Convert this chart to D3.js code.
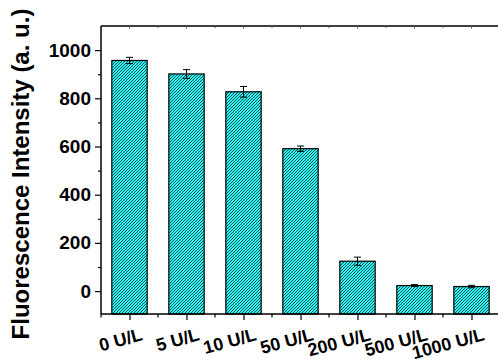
<!DOCTYPE html>
<html>
<head>
<meta charset="utf-8">
<script src="https://cdn.jsdelivr.net/npm/d3@7"></script>
<style>
  html, body { margin: 0; padding: 0; background: #fff; }
  svg { display: block; font-family: Arial, "Liberation Sans", sans-serif; }
</style>
</head>
<body>
<svg id="chart" width="498" height="362"></svg>
<script>
// Fluorescence intensity for each enzyme concentration
const categories = ["0 U/L", "5 U/L", "10 U/L", "50 U/L", "200 U/L", "500 U/L", "1000 U/L"];
const intensity  = [957, 901, 827, 591, 124, 23, 19];
const errors     = [13, 18, 22, 11, 17, 4, 5];
const yTicks     = [0, 200, 400, 600, 800, 1000];
const yMinorTicks = [-100, 100, 300, 500, 700, 900, 1100];
const yLabel = "Fluorescence Intensity (a. u.)";

const svg = d3.select("#chart");
const plotLeft = 101, plotRight = 500, plotTop = 26, plotBottom = 314;

const x = d3.scaleBand().domain(categories).range([plotLeft, plotRight]).paddingInner(0).paddingOuter(0);
const y = d3.scaleLinear().domain([-95, 1100]).range([plotBottom, plotTop]);
const barW = x.bandwidth() * 0.62;

// diagonal "/" hatch fill
const defs = svg.append("defs");
const tile = 3;
const pat = defs.append("pattern")
  .attr("id", "hatch")
  .attr("patternUnits", "userSpaceOnUse")
  .attr("width", tile).attr("height", tile);
pat.append("rect").attr("width", tile).attr("height", tile).attr("fill", "#2af2f2");
pat.append("path")
  .attr("d", `M0,${tile} L${tile},0 M-1,1 L1,-1 M${tile - 1},${tile + 1} L${tile + 1},${tile - 1}`)
  .attr("stroke", "#083030").attr("stroke-width", 0.8);

// bars
svg.append("g").selectAll("rect")
  .data(categories)
  .join("rect")
  .attr("x", d => x(d) + (x.bandwidth() - barW) / 2)
  .attr("width", barW)
  .attr("y", (d, i) => y(intensity[i]))
  .attr("height", (d, i) => y(-95) - y(intensity[i]))
  .attr("fill", "url(#hatch)")
  .attr("stroke", "#000")
  .attr("stroke-width", 1.2);

// error bars
const eb = svg.append("g").attr("stroke", "#000").attr("stroke-width", 1);
categories.forEach((c, i) => {
  const cx = x(c) + x.bandwidth() / 2;
  const y1 = y(intensity[i] + errors[i]);
  const y2 = y(intensity[i] - errors[i]);
  eb.append("line").attr("x1", cx).attr("x2", cx).attr("y1", y1).attr("y2", y2);
  eb.append("line").attr("x1", cx - 3.5).attr("x2", cx + 3.5).attr("y1", y1).attr("y2", y1);
  eb.append("line").attr("x1", cx - 3.5).attr("x2", cx + 3.5).attr("y1", y2).attr("y2", y2);
});

// left axis
const yAxis = d3.axisLeft(y).tickValues(yTicks).tickSize(6).tickPadding(4).tickFormat(d3.format("d"));
const gy = svg.append("g").attr("transform", `translate(${plotLeft},0)`).call(yAxis);
gy.select(".domain").attr("stroke-width", 1.5).attr("d", `M0,${plotBottom}V${plotTop}`);
gy.selectAll(".tick line").attr("stroke-width", 1.2);
gy.selectAll(".tick text").attr("font-size", 19).attr("font-weight", "bold").attr("fill", "#000");
const yMinor = d3.axisLeft(y).tickValues(yMinorTicks.filter(v => y(v) > plotTop && y(v) < plotBottom)).tickSize(3).tickFormat("");
const gym = svg.append("g").attr("transform", `translate(${plotLeft},0)`).call(yMinor);
gym.select(".domain").remove();
gym.selectAll(".tick line").attr("stroke-width", 1.2);

// bottom axis
const centerScale = d3.scalePoint().domain(categories).range([plotLeft + x.bandwidth() / 2, plotRight - x.bandwidth() / 2]);
const xAxis = d3.axisBottom(centerScale).tickSize(6).tickFormat("");
const gx = svg.append("g").attr("transform", `translate(0,${plotBottom})`).call(xAxis);
gx.select(".domain").attr("stroke-width", 1.5).attr("d", `M${plotLeft},0H${plotRight}`);
gx.selectAll(".tick line").attr("stroke-width", 1.2);
const boundaries = categories.map(c => x(c));
gx.selectAll(".minor").data(boundaries).join("line")
  .attr("class", "minor")
  .attr("x1", d => d).attr("x2", d => d)
  .attr("y1", 0).attr("y2", 3.5)
  .attr("stroke", "#000").attr("stroke-width", 1.2);

// top axis (mirror, inward ticks)
const gt = svg.append("g").attr("transform", `translate(0,${plotTop})`);
gt.append("line").attr("x1", plotLeft).attr("x2", plotRight).attr("y1", 0).attr("y2", 0)
  .attr("stroke", "#000").attr("stroke-width", 1.5);
gt.selectAll(".maj").data(categories).join("line")
  .attr("x1", d => centerScale(d)).attr("x2", d => centerScale(d))
  .attr("y1", 0).attr("y2", 2.5).attr("stroke", "#555").attr("stroke-width", 1);
gt.selectAll(".mn").data(boundaries.slice(1)).join("line")
  .attr("x1", d => d).attr("x2", d => d)
  .attr("y1", 0).attr("y2", 2).attr("stroke", "#555").attr("stroke-width", 1);

// rotated category labels
svg.append("g").selectAll("text")
  .data(categories)
  .join("text")
  .attr("transform", d => `translate(${centerScale(d) + 14},${plotBottom + 26}) rotate(-15)`)
  .attr("text-anchor", "end")
  .attr("font-size", 18)
  .attr("font-weight", "bold")
  .attr("fill", "#000")
  .text(d => d);

// y-axis title
svg.append("text")
  .attr("transform", `translate(29,174) rotate(-90)`)
  .attr("text-anchor", "middle")
  .attr("font-size", 24)
  .attr("font-weight", "bold")
  .attr("fill", "#000")
  .text(yLabel);
</script>
</body>
</html>
